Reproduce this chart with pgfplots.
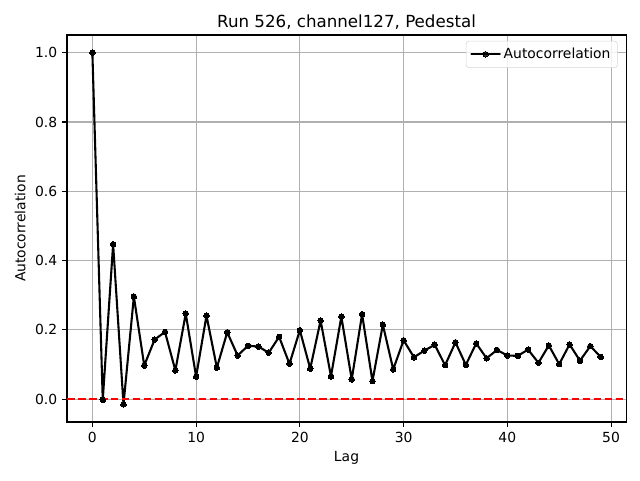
\documentclass[border=0pt]{standalone}
\usepackage{pgfplots}
\pgfplotsset{compat=1.18}
\usepackage{fontspec}
\setmainfont{DejaVu Sans}
\definecolor{gridgray}{HTML}{B0B0B0}
\definecolor{legframe}{HTML}{D6D6D6}
\begin{document}
\begin{tikzpicture}
\begin{axis}[
  scale only axis,
  width=402.5pt, height=278.6pt,
  xmin=-2.45, xmax=51.45,
  ymin=-0.066, ymax=1.051,
  xtick={0,10,20,30,40,50},
  ytick={0,0.2,0.4,0.6,0.8,1.0},
  yticklabel style={/pgf/number format/.cd,fixed,fixed zerofill,precision=1},
  /pgf/number format/assume math mode=true,
  ticklabel style={font=\fontsize{10}{12}\selectfont},
  tick align=outside,
  tick style={black, line width=0.8pt},
  major tick length=3.5pt,
  xtick pos=bottom, ytick pos=left,
  grid=major,
  major grid style={gridgray, line width=0.8pt},
  axis line style={line width=0.8pt},
  title={Run 526, channel127, Pedestal},
  title style={font=\fontsize{12}{14}\selectfont, yshift=-5.5pt},
  xlabel={Lag}, ylabel={Autocorrelation},
  label style={font=\fontsize{10}{12}\selectfont},
  legend style={font=\fontsize{10}{12}\selectfont, draw=legframe, rounded corners=2pt, fill=white, fill opacity=0.8, text opacity=1, at={(0.985,0.985)}, anchor=north east, inner sep=3pt},
  legend image code/.code={\draw[#1, mark repeat=2, mark phase=2] plot coordinates {(0cm,0cm) (0.36cm,0cm) (0.72cm,0cm)};},
  legend cell align=left,
]
\addplot[black, line width=1.5pt, line join=round, line cap=round, mark=*, mark size=2pt, mark options={line width=0pt, draw=none, fill=black}] coordinates {
(0,1.0) (1,-0.002) (2,0.447) (3,-0.015) (4,0.296) (5,0.097) (6,0.172) (7,0.194) (8,0.083) (9,0.247)
(10,0.065) (11,0.241) (12,0.091) (13,0.193) (14,0.126) (15,0.154) (16,0.152) (17,0.134) (18,0.180) (19,0.102)
(20,0.199) (21,0.088) (22,0.227) (23,0.066) (24,0.238) (25,0.057) (26,0.245) (27,0.052) (28,0.215) (29,0.086)
(30,0.170) (31,0.121) (32,0.140) (33,0.157) (34,0.098) (35,0.164) (36,0.099) (37,0.161) (38,0.118) (39,0.142)
(40,0.126) (41,0.125) (42,0.143) (43,0.105) (44,0.155) (45,0.101) (46,0.158) (47,0.111) (48,0.153) (49,0.122)
};
\addlegendentry{Autocorrelation}
\addplot[red, line width=1.5pt, dash pattern=on 5.5pt off 2.4pt, forget plot] coordinates {(-2.45,0) (51.45,0)};
\end{axis}
\path ([shift={(-48.2pt,-41.8pt)}]current axis.south west) rectangle ([shift={(10pt,25.2pt)}]current axis.north east);
\end{tikzpicture}
\end{document}
